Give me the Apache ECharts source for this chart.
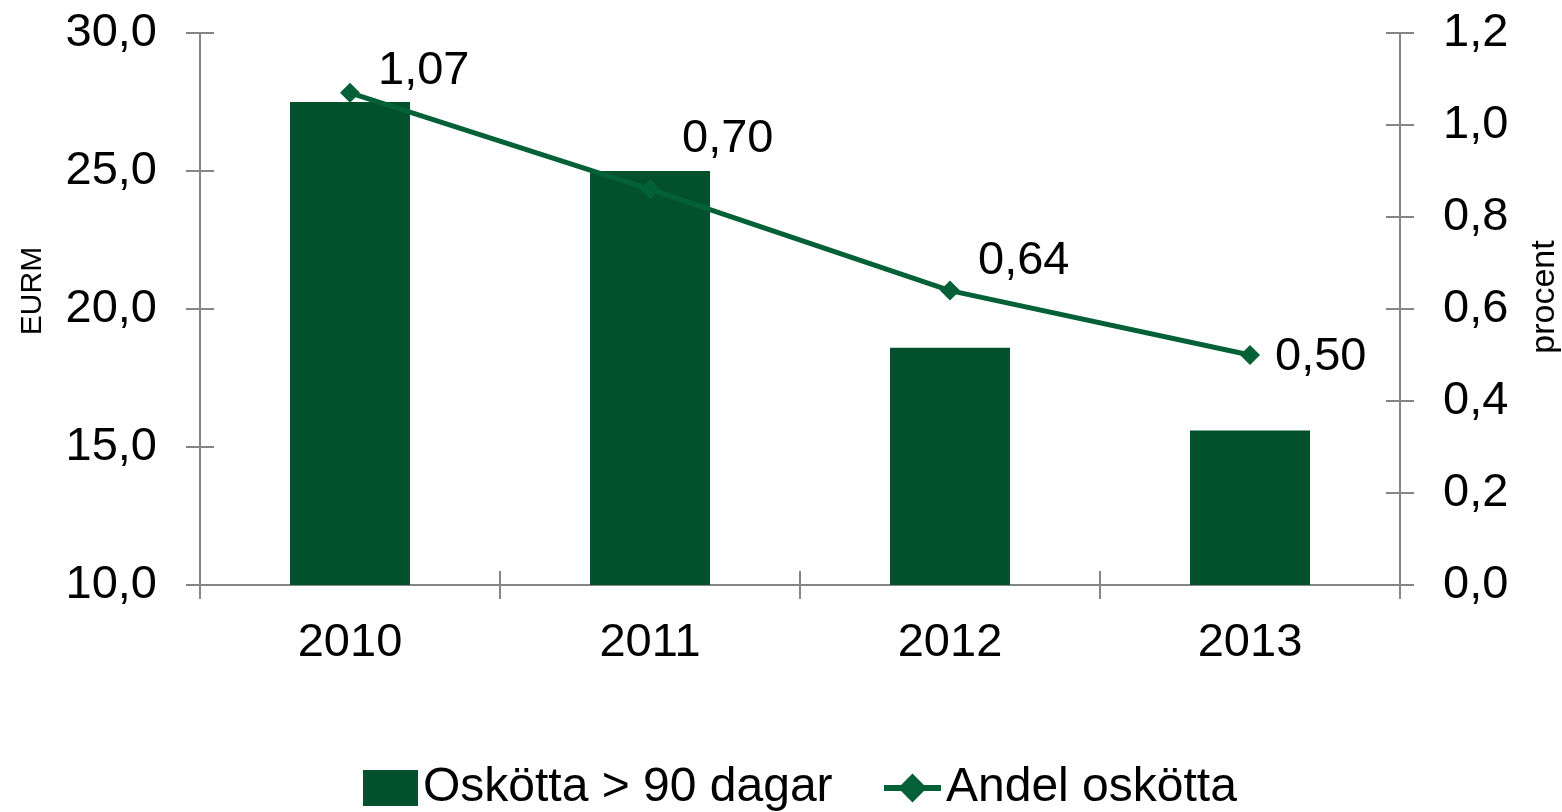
<!DOCTYPE html>
<html>
<head>
<meta charset="utf-8">
<script src="https://cdn.jsdelivr.net/npm/echarts@6/dist/echarts.min.js"></script>
<style>
  html, body { margin: 0; padding: 0; background: #fff; }
  #chart { width: 1562px; height: 812px; }
</style>
</head>
<body>
<div id="chart"></div>
<script>
  // data
  var years = ['2010', '2011', '2012', '2013'];
  var overdue = [27.5, 25.0, 18.6, 15.6];          // Oskötta > 90 dagar, EURM
  var share = [1.07, 0.86, 0.64, 0.50];            // Andel oskötta, procent (plotted)
  var shareLabels = ['1,07', '0,70', '0,64', '0,50']; // labels as printed in the source
  var labelOffsets = [[-4, -22], [0, -50], [-4, -30], [-7, 2]];

  var barColor = '#03502d';
  var lineColor = '#046137';
  var axisColor = '#868686';
  var font = 'Liberation Sans, Arial, sans-serif';

  function comma(v, d) { return v.toFixed(d).replace('.', ','); }

  var chart = echarts.init(document.getElementById('chart'));

  var tickIn = { show: true, inside: true, length: 14, lineStyle: { color: axisColor, width: 2 } };
  var tickOut = { show: true, inside: false, length: 14, lineStyle: { color: axisColor, width: 2 } };
  var line = { show: true, lineStyle: { color: axisColor, width: 2 } };
  var legendText = { fontSize: 48, color: '#000', fontFamily: font };

  chart.setOption({
    animation: false,
    textStyle: { fontFamily: font },
    grid: { left: 200, right: 162, top: 33, bottom: 227, containLabel: false, outerBoundsMode: 'none' },
    legend: [
      {
        left: 358, top: 759,
        itemWidth: 55, itemHeight: 36, itemGap: 0,
        textStyle: legendText,
        data: [{ name: 'Oskötta > 90 dagar', icon: 'rect' }]
      },
      {
        left: 876, top: 759,
        itemWidth: 57, itemHeight: 36, itemGap: 0,
        textStyle: legendText,
        lineStyle: { width: 6 },
        data: [{ name: 'Andel oskötta' }]
      }
    ],
    xAxis: [
      {
        type: 'category',
        data: years,
        axisLine: line,
        axisTick: tickOut,
        axisLabel: { fontSize: 47, color: '#000', margin: 35 },
        splitLine: { show: false }
      },
      {
        type: 'category',
        data: years,
        position: 'bottom',
        axisLine: { show: false },
        axisTick: tickIn,
        axisLabel: { show: false }
      }
    ],
    yAxis: [
      {
        type: 'value', min: 10, max: 30, interval: 5, position: 'left',
        name: 'EURM', nameLocation: 'middle', nameGap: 152, nameRotate: 90,
        nameTextStyle: { fontSize: 30, color: '#000', padding: [0, 0, 0, 36] },
        axisLine: line, axisTick: tickOut,
        axisLabel: { fontSize: 47, color: '#000', margin: 43, formatter: function (v) { return comma(v, 1); } },
        splitLine: { show: false }
      },
      {
        type: 'value', min: 0, max: 1.2, interval: 0.2, position: 'right',
        name: 'procent', nameLocation: 'middle', nameGap: 128, nameRotate: 90,
        nameTextStyle: { fontSize: 34, color: '#000', padding: [0, 0, 0, 24] },
        axisLine: line, axisTick: tickOut,
        axisLabel: { fontSize: 47, color: '#000', margin: 43, formatter: function (v) { return comma(v, 1); } },
        splitLine: { show: false }
      },
      {
        type: 'value', min: 10, max: 30, interval: 5, position: 'left',
        axisLine: { show: false }, axisTick: tickIn, axisLabel: { show: false }, splitLine: { show: false }
      },
      {
        type: 'value', min: 0, max: 1.2, interval: 0.2, position: 'right',
        axisLine: { show: false }, axisTick: tickIn, axisLabel: { show: false }, splitLine: { show: false }
      }
    ],
    series: [
      {
        name: 'Oskötta > 90 dagar',
        type: 'bar',
        barWidth: 120,
        itemStyle: { color: barColor },
        data: overdue
      },
      {
        name: 'Andel oskötta',
        type: 'line',
        yAxisIndex: 1,
        symbol: 'diamond',
        symbolSize: 20,
        itemStyle: { color: lineColor },
        lineStyle: { color: lineColor, width: 5 },
        label: {
          show: true,
          position: 'right',
          distance: 22,
          fontSize: 47,
          color: '#000',
          formatter: function (p) { return shareLabels[p.dataIndex]; }
        },
        data: share.map(function (v, i) {
          return { value: v, label: { offset: labelOffsets[i] } };
        })
      }
    ]
  });
</script>
</body>
</html>
